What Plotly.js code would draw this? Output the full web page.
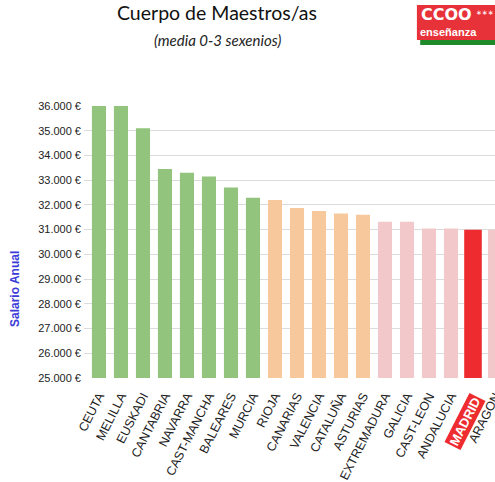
<!DOCTYPE html>
<html>
<head>
<meta charset="utf-8">
<script src="https://cdn.plot.ly/plotly-3.0.1.min.js"></script>
<style>html,body{margin:0;padding:0;background:#fff;}#chart{width:495px;height:482px;}</style>
</head>
<body>
<div id="chart"></div>
<script>
const categories = ['CEUTA','MELILLA','EUSKADI','CANTABRIA','NAVARRA','CAST-MANCHA','BALEARES','MURCIA','RIOJA','CANARIAS','VALENCIA','CATALUÑA','ASTURIAS','EXTREMADURA','GALICIA','CAST-LEON','ANDALUCIA','MADRID','ARAGON'];
const salaries = [36000,36000,35100,33450,33300,33150,32700,32290,32200,31880,31750,31650,31600,31320,31320,31050,31050,31000,31000];
const tiers = ['high','high','high','high','high','high','high','high','mid','mid','mid','mid','mid','low','low','low','low','madrid','low'];
const yTicks = [25000,26000,27000,28000,29000,30000,31000,32000,33000,34000,35000,36000];
const yTickText = yTicks.map(v => v.toLocaleString('de-DE') + ' €');

const tierColor = {high:'#92c47d', mid:'#f7c89b', low:'#f3c8ca', madrid:'#ee2b2e'};
const highlight = 'MADRID';

const trace = {
  type:'bar',
  x: categories,
  y: salaries,
  marker:{color: tiers.map(t => tierColor[t])},
  width: categories.map(c => c === highlight ? 0.8 : 0.64),
  hoverinfo:'x+y'
};

const layout = {
  width:495, height:482,
  margin:{l:84, r:0, t:106, b:104},
  paper_bgcolor:'#fff', plot_bgcolor:'#fff',
  showlegend:false,
  xaxis:{
    type:'category',
    range:[-0.68, 18],
    tickvals: categories.filter(c => c !== highlight),
    ticktext: categories.filter(c => c !== highlight),
    tickangle:-63,
    tickfont:{family:'Liberation Sans, Arial, sans-serif', size:12.5, color:'#222'},
    showgrid:false, showline:false, ticks:'outside', ticklen:5, tickcolor:'rgba(0,0,0,0)', automargin:false, fixedrange:true
  },
  yaxis:{
    range:[25000,36000],
    tickvals: yTicks,
    ticktext: yTickText,
    tickfont:{family:'Liberation Sans, Arial, sans-serif', size:11, color:'#222'},
    showgrid:true, gridcolor:'#dcdcdc', gridwidth:1,
    zeroline:false, showline:false, ticks:'', ticklabelstandoff:2, automargin:false, fixedrange:true
  },
  shapes:[
    {type:'rect', xref:'paper', yref:'paper', x0:0.810, x1:1.02, y0:1.243, y1:1.371, fillcolor:'#e8323a', line:{width:0}, layer:'above'},
    {type:'rect', xref:'paper', yref:'paper', x0:0.818, x1:1.02, y0:1.224, y1:1.243, fillcolor:'#1f8a2a', line:{width:0}, layer:'above'}
  ],
  annotations:[
    {text:'Cuerpo de Maestros/as', xref:'paper', yref:'paper', x:0.324, y:1.342, xanchor:'center', yanchor:'middle', showarrow:false,
     font:{family:'Lato, sans-serif', size:19.5, color:'#111'}},
    {text:'<i>(media 0-3 sexenios)</i>', xref:'paper', yref:'paper', x:0.324, y:1.242, xanchor:'center', yanchor:'middle', showarrow:false,
     font:{family:'Lato, sans-serif', size:15, color:'#222'}},
    {text:'<b>Salario Anual</b>', xref:'paper', yref:'paper', x:-0.168, y:0.327, xanchor:'center', yanchor:'middle', textangle:-90, showarrow:false,
     font:{family:'Liberation Sans, Arial, sans-serif', size:12, color:'#3b3bd8'}},
    {text:'<b>MADRID</b>', xref:'x', yref:'paper', x:highlight, y:-0.16, xanchor:'center', yanchor:'middle', xshift:-8, textangle:-63, showarrow:false,
     bgcolor:'#ee2b2e', borderpad:1,
     font:{family:'Liberation Sans, Arial, sans-serif', size:13, color:'#fff'}},
    {text:'<b>CCOO</b>', xref:'paper', yref:'paper', x:0.81, y:1.335, xanchor:'left', yanchor:'middle', xshift:2, showarrow:false,
     font:{family:'DejaVu Sans, sans-serif', size:16, color:'#fff'}},
    {text:'∗∗∗', xref:'paper', yref:'paper', x:0.975, y:1.342, xanchor:'center', yanchor:'middle', showarrow:false,
     font:{family:'DejaVu Sans, sans-serif', size:7, color:'#fff'}},
    {text:'<b>enseñanza</b>', xref:'paper', yref:'paper', x:0.81, y:1.272, xanchor:'left', yanchor:'middle', xshift:1, showarrow:false,
     font:{family:'Liberation Sans Narrow, Liberation Sans, Arial, sans-serif', size:11, color:'#fff'}}
  ]
};

Plotly.newPlot('chart', [trace], layout, {displayModeBar:false, staticPlot:true});
</script>
</body>
</html>
